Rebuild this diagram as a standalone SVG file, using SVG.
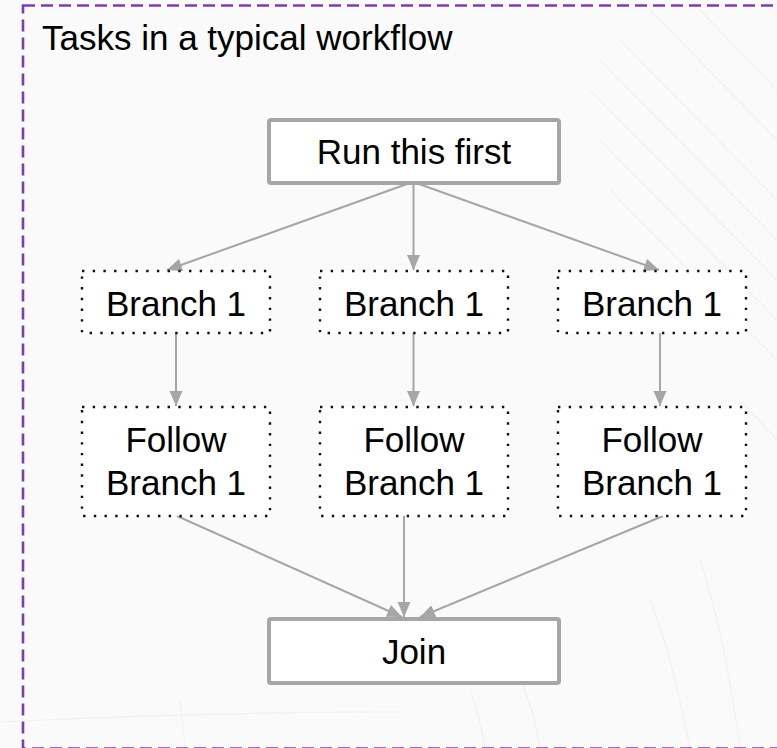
<svg xmlns="http://www.w3.org/2000/svg" width="777" height="748" viewBox="0 0 777 748">
  <defs>
    <style>
      .frame { fill: none; stroke: #7d3cb0; stroke-width: 2.6; stroke-dasharray: 12 6; }
      .solid { fill: #ffffff; stroke: #a6a6a6; stroke-width: 4; }
      .dotted { fill: #ffffff; stroke: #111111; stroke-width: 2.4; stroke-dasharray: 2.4 8.3; }
      .label { font-family: "Liberation Sans", Arial, sans-serif; font-size: 35px; fill: #000000; text-anchor: middle; }
      .title { font-family: "Liberation Sans", Arial, sans-serif; font-size: 35px; fill: #000000; }
      .edge { fill: none; stroke: #a6a6a6; stroke-width: 2; marker-end: url(#arrow); }
      .sheen { fill: none; stroke: #f1f1f1; stroke-width: 1.2; }
    </style>
    <marker id="arrow" markerUnits="userSpaceOnUse" markerWidth="16" markerHeight="14" refX="15" refY="6.5" orient="auto">
      <path d="M0,0 L15,6.5 L0,13 z" fill="#a6a6a6"/>
    </marker>
  </defs>

  <!-- page background -->
  <rect x="0" y="0" width="777" height="748" fill="#fafafa"/>

  <!-- faint decorative strokes in the background -->
  <g id="background-sheen">
    <path class="sheen" d="M620,40 L777,200"/>
    <path class="sheen" d="M600,60 L777,240"/>
    <path class="sheen" d="M590,90 L777,280"/>
    <path class="sheen" d="M600,140 L777,320"/>
    <path class="sheen" d="M610,190 L777,360"/>
    <path class="sheen" d="M650,10 L777,140"/>
    <path class="sheen" d="M700,10 L777,90"/>
    <path class="sheen" d="M740,400 L777,440"/>
    <path class="sheen" d="M700,560 C720,620 730,680 740,748"/>
    <path class="sheen" d="M650,600 C670,650 680,700 690,748"/>
    <path class="sheen" d="M520,680 C530,700 535,720 540,748"/>
    <path class="sheen" d="M470,690 C478,710 482,730 485,748"/>
    <path class="sheen" d="M180,700 C182,720 184,735 185,748"/>
    <path class="sheen" d="M0,722 C120,716 260,712 400,712"/>
  </g>

  <!-- outer dashed frame; its bottom and right edges run past the page -->
  <rect id="frame" class="frame" x="23" y="5.5" width="800" height="743"/>

  <text id="title" class="title" x="42" y="50">Tasks in a typical workflow</text>

  <!-- connectors -->
  <g id="connectors">
    <path class="edge" d="M407,184 L167,270"/>
    <path class="edge" d="M413.5,184 L413.5,270"/>
    <path class="edge" d="M419,184 L659,270"/>
    <path class="edge" d="M176,333 L176,406"/>
    <path class="edge" d="M413.5,333 L413.5,406"/>
    <path class="edge" d="M660,333 L660,406"/>
    <path class="edge" d="M177,516 L402,617"/>
    <path class="edge" d="M404,516 L404,617"/>
    <path class="edge" d="M663,516 L420,617"/>
  </g>

  <!-- nodes -->
  <g id="run-first">
    <rect class="solid" x="269" y="120" width="290" height="63" rx="2"/>
    <text class="label" x="414" y="164">Run this first</text>
  </g>

  <g id="branch-left">
    <rect class="dotted" x="82" y="271" width="188" height="62"/>
    <text class="label" x="176" y="316">Branch 1</text>
  </g>
  <g id="branch-middle">
    <rect class="dotted" x="320" y="271" width="188" height="62"/>
    <text class="label" x="414" y="316">Branch 1</text>
  </g>
  <g id="branch-right">
    <rect class="dotted" x="558" y="271" width="188" height="62"/>
    <text class="label" x="652" y="316">Branch 1</text>
  </g>

  <g id="follow-left">
    <rect class="dotted" x="82" y="407" width="188" height="109"/>
    <text class="label" x="176" y="452">Follow</text>
    <text class="label" x="176" y="495">Branch 1</text>
  </g>
  <g id="follow-middle">
    <rect class="dotted" x="320" y="407" width="188" height="109"/>
    <text class="label" x="414" y="452">Follow</text>
    <text class="label" x="414" y="495">Branch 1</text>
  </g>
  <g id="follow-right">
    <rect class="dotted" x="558" y="407" width="188" height="109"/>
    <text class="label" x="652" y="452">Follow</text>
    <text class="label" x="652" y="495">Branch 1</text>
  </g>

  <g id="join">
    <rect class="solid" x="269" y="619" width="290" height="64" rx="2"/>
    <text class="label" x="414" y="664">Join</text>
  </g>
</svg>
